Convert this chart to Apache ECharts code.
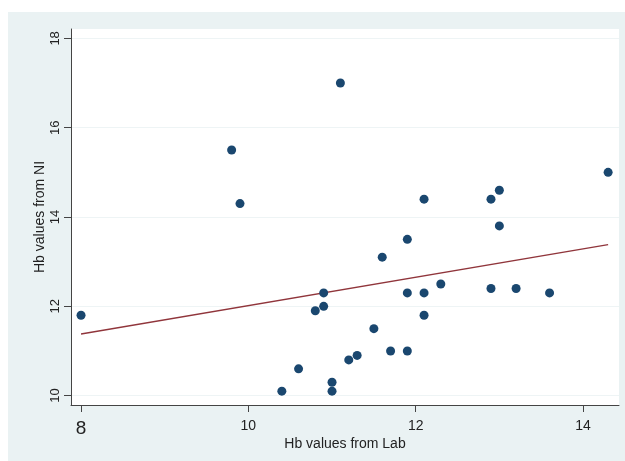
<!DOCTYPE html>
<html>
<head>
<meta charset="utf-8">
<script src="https://cdn.jsdelivr.net/npm/echarts@6/dist/echarts.min.js"></script>
<style>
  html, body { margin: 0; padding: 0; background: #fff; }
  #chart { width: 625px; height: 461px; }
</style>
</head>
<body>
<div id="chart"></div>
<script>
// Hb values
var labHb = [8, 9.8, 9.9, 11.1, 10.4, 10.6, 10.8, 10.9, 10.9, 11.0, 11.0, 11.2, 11.3, 11.5, 11.6,
             11.7, 11.9, 11.9, 11.9, 12.1, 12.1, 12.1, 12.3, 12.9, 12.9, 13.0, 13.0, 13.2, 13.6, 14.3];
var niHb  = [11.8, 15.5, 14.3, 17.0, 10.1, 10.6, 11.9, 12.3, 12.0, 10.3, 10.1, 10.8, 10.9, 11.5, 13.1,
             11.0, 11.0, 12.3, 13.5, 14.4, 12.3, 11.8, 12.5, 14.4, 12.4, 14.6, 13.8, 12.4, 12.3, 15.0];
// fitted line ends
var fitX = [8, 14.3];
var fitY = [11.38, 13.38];
var xTicks = [8, 10, 12, 14];
var yTicks = [10, 12, 14, 16, 18];

var points = labHb.map(function (x, i) { return [x, niHb[i]]; });
var fit = fitX.map(function (x, i) { return [x, fitY[i]]; });

var chart = echarts.init(document.getElementById('chart'));
var font = 'Liberation Sans, Arial, sans-serif';

chart.setOption({
    animation: false,
    graphic: [{
        type: 'rect', z: -10, silent: true,
        shape: { x: 8, y: 12, width: 617, height: 449 },
        style: { fill: '#eaf2f3' }
    }],
    grid: {
        left: 71, top: 29, right: 6, bottom: 56,
        show: true, backgroundColor: '#ffffff', borderWidth: 0
    },
    xAxis: {
        type: 'value', min: 7.88, max: 14.43,
        name: 'Hb values from Lab', nameLocation: 'middle', nameGap: 32, nameMoveOverlap: false,
        nameTextStyle: { fontFamily: font, fontSize: 14, color: '#222' },
        axisLine: { show: true, lineStyle: { color: '#444', width: 1 } },
        axisTick: { show: true, length: 7, customValues: xTicks, lineStyle: { color: '#444' } },
        axisLabel: {
            customValues: xTicks, margin: 14, fontFamily: font, fontSize: 14, color: '#222',
            formatter: function (v) { return v === 8 ? '{big|8}' : String(v); },
            rich: { big: { fontSize: 19, fontFamily: font, color: '#222' } }
        },
        splitLine: { show: false }
    },
    yAxis: {
        type: 'value', min: 9.79, max: 18.21,
        name: 'Hb values from NI', nameLocation: 'middle', nameGap: 24, nameRotate: 90, nameMoveOverlap: false,
        nameTextStyle: { fontFamily: font, fontSize: 14, color: '#222' },
        axisLine: { show: true, lineStyle: { color: '#444', width: 1 } },
        axisTick: { show: true, length: 7, customValues: yTicks, lineStyle: { color: '#444' } },
        axisLabel: {
            customValues: yTicks, rotate: 90, margin: 9,
            fontFamily: font, fontSize: 13, color: '#222'
        },
        splitLine: { show: true, lineStyle: { color: '#eef4f5', width: 1 } }
    },
    series: [{
        type: 'scatter',
        data: points,
        symbolSize: 9,
        itemStyle: { color: '#1a476f', opacity: 1 },
        z: 3
    }, {
        type: 'line',
        data: fit,
        showSymbol: false,
        lineStyle: { color: '#90353b', width: 1.3 },
        z: 2
    }]
});
</script>
</body>
</html>
